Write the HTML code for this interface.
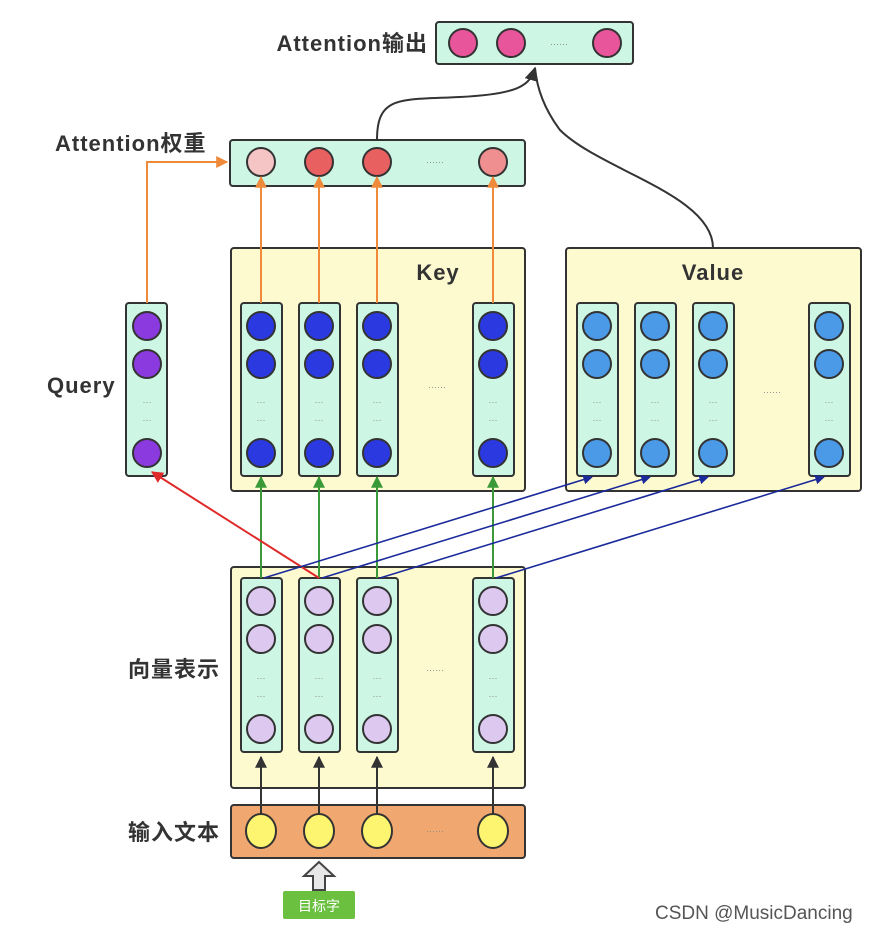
<!DOCTYPE html>
<html><head><meta charset="utf-8"><style>body{margin:0;background:#fff}svg{display:block}</style></head><body>
<svg width="870" height="934" viewBox="0 0 870 934" xmlns="http://www.w3.org/2000/svg" font-family="Liberation Sans, Noto Sans CJK SC, sans-serif">
<defs>
<marker id="ab" viewBox="0 0 10 10" refX="9" refY="5" markerWidth="6" markerHeight="6" orient="auto"><path d="M0,0L10,5L0,10z" fill="#333"/></marker>
<marker id="ag" viewBox="0 0 10 10" refX="9" refY="5" markerWidth="6" markerHeight="6" orient="auto"><path d="M0,0L10,5L0,10z" fill="#3a9a3a"/></marker>
<marker id="ao" viewBox="0 0 10 10" refX="9" refY="5" markerWidth="6" markerHeight="6" orient="auto"><path d="M0,0L10,5L0,10z" fill="#ee8a3a"/></marker>
<marker id="ar" viewBox="0 0 10 10" refX="9" refY="5" markerWidth="6" markerHeight="6" orient="auto"><path d="M0,0L10,5L0,10z" fill="#e02a2a"/></marker>
<marker id="au" viewBox="0 0 10 10" refX="9" refY="5" markerWidth="6" markerHeight="6" orient="auto"><path d="M0,0L10,5L0,10z" fill="#1a2a9a"/></marker>
<marker id="aB" viewBox="0 0 10 10" refX="9" refY="5" markerWidth="7" markerHeight="7" orient="auto"><path d="M0,0L10,5L0,10z" fill="#333"/></marker>
</defs>
<g stroke="#333" stroke-width="2">
<rect x="436" y="22" width="197" height="42" rx="3" fill="#cdf6e4"/>
<circle cx="463" cy="43" r="14" fill="#e8559a"/><circle cx="511" cy="43" r="14" fill="#e8559a"/><circle cx="607" cy="43" r="14" fill="#e8559a"/>
<rect x="230" y="140" width="295" height="46" rx="3" fill="#cdf6e4"/>
<circle cx="261" cy="162" r="14" fill="#f5c4c4"/><circle cx="319" cy="162" r="14" fill="#e86060"/><circle cx="377" cy="162" r="14" fill="#e86060"/><circle cx="493" cy="162" r="14" fill="#ef8f8f"/>
<rect x="231" y="248" width="294" height="243" rx="3" fill="#fdfad0"/>
<rect x="566" y="248" width="295" height="243" rx="3" fill="#fdfad0"/>
<rect x="231" y="567" width="294" height="221" rx="3" fill="#fdfad0"/>
<rect x="231" y="805" width="294" height="53" rx="3" fill="#f0a870"/>
</g>
<g stroke="#333" stroke-width="2">
<rect x="126" y="303" width="41" height="173" rx="3" fill="#cdf6e4"/>
<circle cx="147" cy="326" r="14" fill="#8b3ae0"/><circle cx="147" cy="364" r="14" fill="#8b3ae0"/><circle cx="147" cy="453" r="14" fill="#8b3ae0"/>
</g>
<g stroke="#333" stroke-width="2">
<g fill="#cdf6e4"><rect x="241" y="303" width="41" height="173" rx="3"/><rect x="299" y="303" width="41" height="173" rx="3"/><rect x="357" y="303" width="41" height="173" rx="3"/><rect x="473" y="303" width="41" height="173" rx="3"/>
<rect x="577" y="303" width="41" height="173" rx="3"/><rect x="635" y="303" width="41" height="173" rx="3"/><rect x="693" y="303" width="41" height="173" rx="3"/><rect x="809" y="303" width="41" height="173" rx="3"/>
<rect x="241" y="578" width="41" height="174" rx="3"/><rect x="299" y="578" width="41" height="174" rx="3"/><rect x="357" y="578" width="41" height="174" rx="3"/><rect x="473" y="578" width="41" height="174" rx="3"/></g>
<g fill="#2a3ae0">
<circle cx="261" cy="326" r="14"/><circle cx="261" cy="364" r="14"/><circle cx="261" cy="453" r="14"/>
<circle cx="319" cy="326" r="14"/><circle cx="319" cy="364" r="14"/><circle cx="319" cy="453" r="14"/>
<circle cx="377" cy="326" r="14"/><circle cx="377" cy="364" r="14"/><circle cx="377" cy="453" r="14"/>
<circle cx="493" cy="326" r="14"/><circle cx="493" cy="364" r="14"/><circle cx="493" cy="453" r="14"/></g>
<g fill="#4a9ae8">
<circle cx="597" cy="326" r="14"/><circle cx="597" cy="364" r="14"/><circle cx="597" cy="453" r="14"/>
<circle cx="655" cy="326" r="14"/><circle cx="655" cy="364" r="14"/><circle cx="655" cy="453" r="14"/>
<circle cx="713" cy="326" r="14"/><circle cx="713" cy="364" r="14"/><circle cx="713" cy="453" r="14"/>
<circle cx="829" cy="326" r="14"/><circle cx="829" cy="364" r="14"/><circle cx="829" cy="453" r="14"/></g>
<g fill="#ddc8f0">
<circle cx="261" cy="601" r="14"/><circle cx="261" cy="639" r="14"/><circle cx="261" cy="729" r="14"/>
<circle cx="319" cy="601" r="14"/><circle cx="319" cy="639" r="14"/><circle cx="319" cy="729" r="14"/>
<circle cx="377" cy="601" r="14"/><circle cx="377" cy="639" r="14"/><circle cx="377" cy="729" r="14"/>
<circle cx="493" cy="601" r="14"/><circle cx="493" cy="639" r="14"/><circle cx="493" cy="729" r="14"/></g>
<g fill="#fdf570">
<ellipse cx="261" cy="831" rx="15" ry="17"/><ellipse cx="319" cy="831" rx="15" ry="17"/><ellipse cx="377" cy="831" rx="15" ry="17"/><ellipse cx="493" cy="831" rx="15" ry="17"/></g>
</g>
<g fill="#888" font-size="9" text-anchor="middle">
<text x="147" y="405">···</text><text x="147" y="423">···</text>
<text x="261" y="405">···</text><text x="261" y="423">···</text><text x="319" y="405">···</text><text x="319" y="423">···</text><text x="377" y="405">···</text><text x="377" y="423">···</text><text x="493" y="405">···</text><text x="493" y="423">···</text>
<text x="597" y="405">···</text><text x="597" y="423">···</text><text x="655" y="405">···</text><text x="655" y="423">···</text><text x="713" y="405">···</text><text x="713" y="423">···</text><text x="829" y="405">···</text><text x="829" y="423">···</text>
<text x="261" y="681">···</text><text x="261" y="699">···</text><text x="319" y="681">···</text><text x="319" y="699">···</text><text x="377" y="681">···</text><text x="377" y="699">···</text><text x="493" y="681">···</text><text x="493" y="699">···</text>
<text x="559" y="47">······</text><text x="435" y="165">······</text><text x="437" y="390">······</text><text x="772" y="395">······</text><text x="435" y="673">······</text><text x="435" y="834">······</text>
</g>
<g stroke="#333" stroke-width="2" fill="none">
<line x1="261" y1="814" x2="261" y2="757" marker-end="url(#ab)"/><line x1="319" y1="814" x2="319" y2="757" marker-end="url(#ab)"/><line x1="377" y1="814" x2="377" y2="757" marker-end="url(#ab)"/><line x1="493" y1="814" x2="493" y2="757" marker-end="url(#ab)"/>
<path d="M377,140 C377,95 400,100 460,97 C520,94 530,85 535,68" marker-end="url(#aB)"/>
<path d="M713,248 C713,195 600,170 560,130 C545,110 537,90 535,68"/>
</g>
<g stroke="#3a9a3a" stroke-width="2"><line x1="261" y1="578" x2="261" y2="477" marker-end="url(#ag)"/><line x1="319" y1="578" x2="319" y2="477" marker-end="url(#ag)"/><line x1="377" y1="578" x2="377" y2="477" marker-end="url(#ag)"/><line x1="493" y1="578" x2="493" y2="477" marker-end="url(#ag)"/></g>
<g stroke="#ee8a3a" stroke-width="2" fill="none"><line x1="261" y1="303" x2="261" y2="177" marker-end="url(#ao)"/><line x1="319" y1="303" x2="319" y2="177" marker-end="url(#ao)"/><line x1="377" y1="303" x2="377" y2="177" marker-end="url(#ao)"/><line x1="493" y1="303" x2="493" y2="177" marker-end="url(#ao)"/>
<polyline points="147,303 147,162 227,162" marker-end="url(#ao)"/></g>
<line x1="319" y1="578" x2="152" y2="472" stroke="#e02a2a" stroke-width="2" marker-end="url(#ar)"/>
<g stroke="#1a2a9a" stroke-width="1.6"><line x1="264" y1="578" x2="592" y2="477" marker-end="url(#au)"/><line x1="322" y1="578" x2="650" y2="477" marker-end="url(#au)"/><line x1="380" y1="578" x2="708" y2="477" marker-end="url(#au)"/><line x1="496" y1="578" x2="824" y2="477" marker-end="url(#au)"/></g>
<path d="M313,890 L313,876 L304,876 L319,862 L334,876 L325,876 L325,890 Z" fill="#e8e8e8" stroke="#444" stroke-width="2"/>
<rect x="283" y="891" width="72" height="28" rx="2" fill="#6cc040"/>
<text x="319" y="911" fill="#fff" font-size="14" text-anchor="middle">目标字</text>
<g font-weight="bold" fill="#333" font-size="22" letter-spacing="1">
<text x="428" y="51" text-anchor="end">Attention输出</text>
<text x="55" y="151">Attention权重</text>
<text x="438" y="280" text-anchor="middle">Key</text>
<text x="713" y="280" text-anchor="middle">Value</text>
<text x="47" y="393">Query</text>
<text x="128" y="677">向量表示</text>
<text x="128" y="840">输入文本</text>
</g>
<text x="655" y="919" font-size="19" fill="#555">CSDN @MusicDancing</text>
</svg>
</body></html>
